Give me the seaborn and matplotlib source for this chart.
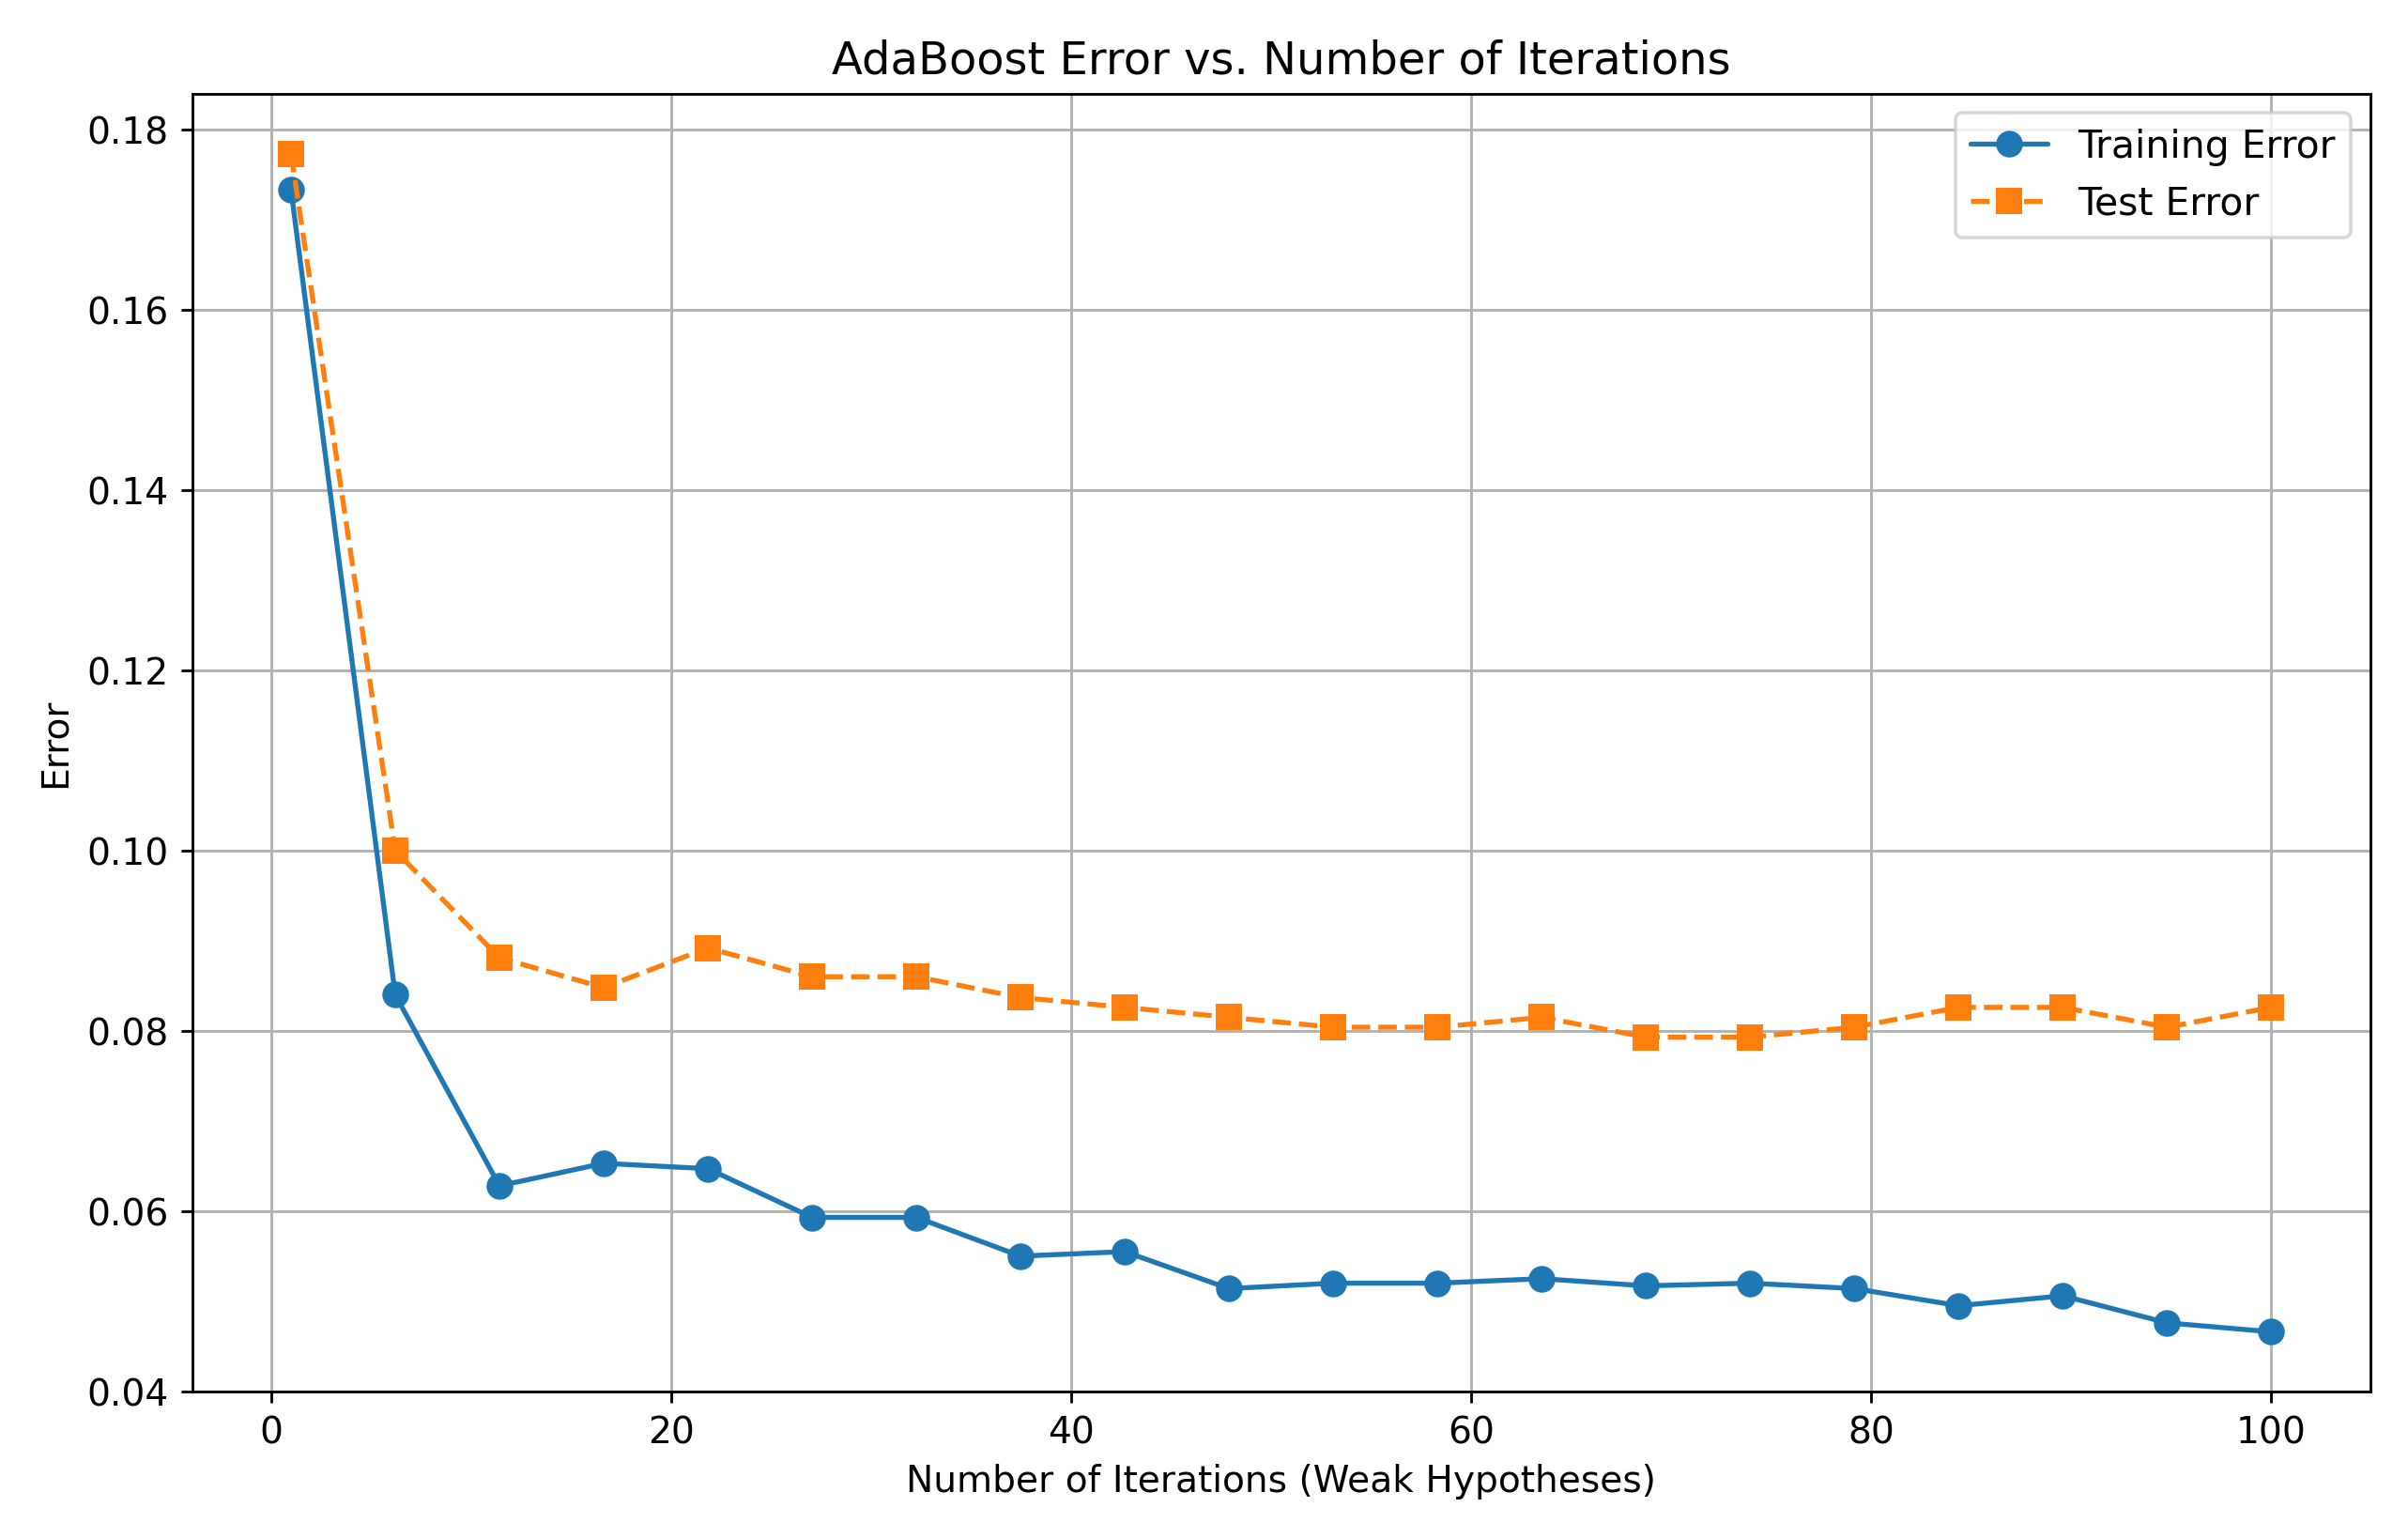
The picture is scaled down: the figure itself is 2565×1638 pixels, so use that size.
import matplotlib
matplotlib.use("Agg")
import matplotlib.pyplot as plt
import seaborn as sns
import pandas as pd

# Data
iterations = [1.0, 6.21, 11.42, 16.63, 21.84, 27.05, 32.26, 37.47, 42.68, 47.89,
              53.11, 58.32, 63.53, 68.74, 73.95, 79.16, 84.37, 89.58, 94.79, 100.0]
train_err = [0.1733, 0.0840, 0.0628, 0.0653, 0.0647, 0.0593, 0.0593, 0.0550, 0.0555, 0.0514,
             0.0520, 0.0520, 0.0525, 0.0517, 0.0520, 0.0514, 0.0495, 0.0506, 0.0476, 0.0466]
test_err = [0.1773, 0.1000, 0.0881, 0.0848, 0.0892, 0.0860, 0.0860, 0.0837, 0.0826, 0.0815,
            0.0804, 0.0804, 0.0815, 0.0793, 0.0793, 0.0804, 0.0826, 0.0826, 0.0804, 0.0826]

df = pd.DataFrame({'iter': iterations, 'train': train_err, 'test': test_err})

sns.set_style("ticks", {'text.color': 'black', 'axes.labelcolor': 'black',
                        'xtick.color': 'black', 'ytick.color': 'black',
                        'axes.edgecolor': 'black'})
plt.rcParams['font.family'] = ['DejaVu Sans']
plt.rcParams['font.size'] = 10.5

fig, ax = plt.subplots(figsize=(10.02, 6.4))
sns.lineplot(data=df, x='iter', y='train', ax=ax, marker='o', markersize=8,
             markeredgewidth=0, color='#1f77b4', label='Training Error')
sns.lineplot(data=df, x='iter', y='test', ax=ax, marker='s', markersize=8,
             markeredgewidth=0, color='#ff7f0e', linestyle='--', label='Test Error')

ax.set_title("AdaBoost Error vs. Number of Iterations", fontsize=13.5)
ax.set_xlabel("Number of Iterations (Weak Hypotheses)", fontsize=11)
ax.set_ylabel("Error", fontsize=11)
ax.tick_params(labelsize=11)
ax.set_ylim(0.04, 0.184)
ax.grid(True, color='#b0b0b0', linewidth=0.8)
ax.legend(loc='upper right', fontsize=11.5)

plt.tight_layout()
plt.savefig("out.png", dpi=256)
